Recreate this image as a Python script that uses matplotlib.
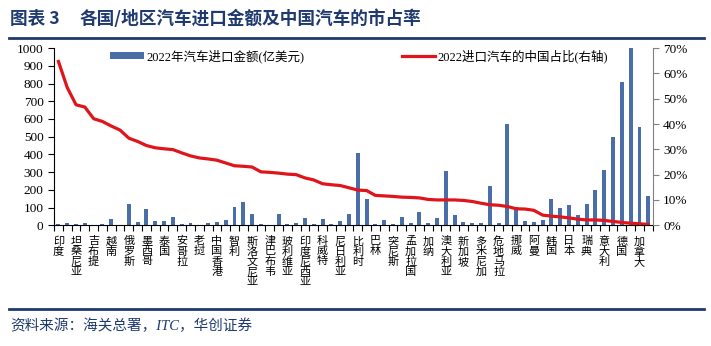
import matplotlib.pyplot as plt
from matplotlib.lines import Line2D
import numpy as np

plt.rcParams['font.family'] = ['Liberation Serif', 'Noto Sans CJK SC']

# only every other country is labelled on the axis
shown_labels = ['印度', '坦桑尼亚', '吉布提', '越南', '俄罗斯', '墨西哥', '泰国', '安哥拉',
                '老挝', '中国香港', '智利', '斯洛文尼亚', '津巴布韦', '玻利维亚', '印度尼西亚',
                '科威特', '尼日利亚', '比利时', '巴林', '突尼斯', '孟加拉国', '加纳', '澳大利亚',
                '新加坡', '多米尼加', '危地马拉', '挪威', '阿曼', '韩国', '日本', '瑞典',
                '意大利', '德国', '加拿大']

# 2022 car imports, 100m USD
import_value = [5, 11, 8, 13, 2, 6, 36, 1, 121, 19, 91, 26, 25, 44, 5, 13,
                4, 15, 21, 32, 104, 133, 66, 6, 1, 66, 6, 13, 40, 6, 34, 9, 23, 62,
                405, 150, 8, 27, 8, 47, 11, 76, 11, 40, 305, 59, 17, 11, 13, 222, 13,
                572, 104, 25, 19, 28, 148, 100, 114, 57, 119, 197, 314, 498, 809, 1000, 555, 165]

# share of imported cars from China, %
china_share = [64.7, 54.4, 47.6, 46.7, 42.1, 41.0, 39.2, 37.6, 34.4, 33.1,
               31.5, 30.6, 30.2, 29.9, 28.6, 27.4, 26.6, 26.2, 25.7, 24.6,
               23.5, 23.3, 23.0, 21.1, 20.9, 20.6, 20.2, 20.0, 18.7, 17.9,
               16.4, 16.0, 15.7, 14.8, 13.9, 13.7, 11.8, 11.6, 11.4, 11.1,
               11.0, 10.8, 10.2, 10.0, 10.0, 10.0, 9.8, 9.4, 8.7, 8.1,
               7.9, 7.4, 6.5, 6.4, 5.9, 4.0, 3.6, 3.3, 2.9, 2.4,
               2.1, 2.1, 1.9, 1.5, 1.1, 0.8, 0.6, 0.3]

n = len(import_value)
x = np.arange(n)
tick_labels = []
for i in range(n):
    if i % 2 == 0:
        tick_labels.append('\n'.join(shown_labels[i // 2]))
    else:
        tick_labels.append('')

navy = '#1f3a6e'
fig = plt.figure(figsize=(7.11, 3.46), dpi=100)
ax = fig.add_axes([0.076, 0.349, 0.842, 0.512])
ax2 = ax.twinx()

ax.bar(x, import_value, width=0.45, color='#4a6fa8', label='2022年汽车进口金额(亿美元)', zorder=2)
ax2.plot(x, china_share, color='#e0141b', lw=2.3, label='2022进口汽车的中国占比(右轴)')

ax.set_xlim(-0.5, n - 0.5)
ax.set_ylim(0, 1000)
ax.set_yticks(np.arange(0, 1001, 100))
ax2.set_ylim(0, 70)
ax2.set_yticks(np.arange(0, 71, 10))
ax2.set_yticklabels(['%d%%' % v for v in range(0, 71, 10)])

ax.set_xticks(x)
ax.set_xticklabels(tick_labels, fontsize=8, linespacing=1.0, va='top',
                   family=['Noto Sans CJK SC'])
ax.tick_params(axis='x', length=0, pad=8)
ax.set_xticks(np.arange(-0.5, n, 1), minor=True)
ax.tick_params(axis='x', which='minor', length=4, width=0.8)
ax.tick_params(axis='y', labelsize=9.5, length=4, width=0.8)
ax2.tick_params(axis='y', labelsize=9.5, length=4, width=0.8, color='#808080')

for a in (ax, ax2):
    a.spines['top'].set_visible(False)
ax2.spines['left'].set_visible(False)
ax2.spines['bottom'].set_visible(False)
ax2.spines['right'].set_color('#808080')
ax.spines['right'].set_visible(False)

h1, l1 = ax.get_legend_handles_labels()
h2, l2 = ax2.get_legend_handles_labels()
fig.legend(h1 + h2, l1 + l2, loc='upper center', bbox_to_anchor=(0.505, 0.89), ncol=2,
           frameon=False, fontsize=9, handlelength=2.7, handleheight=0.5,
           columnspacing=7.8, handletextpad=0.2)

fig.text(0.014, 0.945, '图表 3', fontsize=12.7, fontweight='bold', color=navy, va='center',
         family=['Noto Sans CJK SC'])
fig.text(0.1125, 0.945, '各国/地区汽车进口金额及中国汽车的市占率', fontsize=12.7,
         fontweight='bold', color=navy, va='center', family=['Noto Sans CJK SC'])
fig.add_artist(Line2D([0.012, 0.99], [0.89, 0.89], color=navy, lw=2))
fig.add_artist(Line2D([0.012, 0.99], [0.107, 0.107], color=navy, lw=2))
fig.text(0.014, 0.058, '资料来源：海关总署，ITC，华创证券', fontsize=10.5, style='italic',
         color=navy, va='center')

fig.savefig('out.png', dpi=100)
